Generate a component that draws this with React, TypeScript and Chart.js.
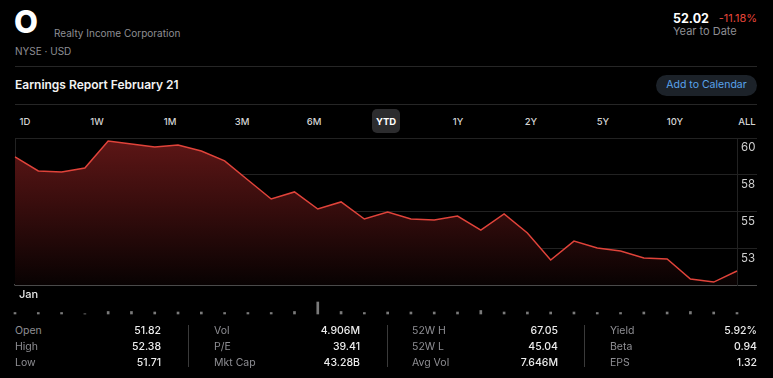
import React, { useEffect, useRef } from "react";
import { Chart, registerables } from "chart.js";
Chart.register(...registerables);

const dates = [
  "Jan 2", "Jan 3", "Jan 4", "Jan 5", "Jan 8", "Jan 9", "Jan 10", "Jan 11", "Jan 12",
  "Jan 16", "Jan 17", "Jan 18", "Jan 19", "Jan 22", "Jan 23", "Jan 24", "Jan 25", "Jan 26",
  "Jan 29", "Jan 30", "Jan 31", "Feb 1", "Feb 2", "Feb 5", "Feb 6", "Feb 7", "Feb 8",
  "Feb 9", "Feb 12", "Feb 13", "Feb 14", "Feb 15",
];
const closes = [
  58.71, 57.76, 57.69, 57.96, 59.8, 59.59, 59.39, 59.52, 59.12, 58.44, 57.14, 55.85,
  56.33, 55.17, 55.65, 54.49, 54.97, 54.49, 54.42, 54.69, 53.74, 54.83, 53.54, 51.7,
  52.99, 52.52, 52.31, 51.84, 51.77, 50.41, 50.2, 50.95,
];
const volumes = [
  3, 3, 3, 0.4, 5, 5, 4, 4, 4, 3, 3, 3, 5, 24, 5, 3, 4, 4, 4, 4, 7, 4, 4, 4, 4, 3, 3,
  4, 4, 5, 4, 3,
];
const yTickValues = [50, 52.5, 55, 57.5, 60];
const yTickLabels = ["", "53", "55", "58", "60"];
const xTickLabel = "Jan";

const ranges = ["1D", "1W", "1M", "3M", "6M", "YTD", "1Y", "2Y", "5Y", "10Y", "ALL"];
const activeRange = "YTD";

const statLabels = [
  ["Open", "High", "Low"],
  ["Vol", "P/E", "Mkt Cap"],
  ["52W H", "52W L", "Avg Vol"],
  ["Yield", "Beta", "EPS"],
];
const statValues = [
  ["51.82", "52.38", "51.71"],
  ["4.906M", "39.41", "43.28B"],
  ["67.05", "45.04", "7.646M"],
  ["5.92%", "0.94", "1.32"],
];

const FONT = "Inter, 'Noto Sans', sans-serif";

function PriceChart() {
  const ref = useRef<HTMLCanvasElement>(null);
  useEffect(() => {
    const chart = new Chart(ref.current!, {
      type: "line",
      data: {
        labels: dates,
        datasets: [
          {
            data: closes,
            borderColor: "#e0433a",
            borderWidth: 1.5,
            pointRadius: 0,
            tension: 0,
            fill: "start",
            backgroundColor: (ctx: any) => {
              const ca = ctx.chart.chartArea;
              if (!ca) return "rgba(90,20,20,0.6)";
              const g = ctx.chart.ctx.createLinearGradient(0, ca.top, 0, ca.bottom);
              g.addColorStop(0, "#5e1616");
              g.addColorStop(0.5, "#340c0c");
              g.addColorStop(1, "#080202");
              return g;
            },
          },
        ],
      },
      options: {
        animation: false,
        responsive: false,
        maintainAspectRatio: false,
        layout: { padding: { left: 15, right: 0, top: 8, bottom: 0 } },
        plugins: { legend: { display: false }, tooltip: { enabled: false } },
        scales: {
          x: {
            type: "category",
            offset: false,
            afterFit: (s: any) => {
              s.height = 17;
            },
            grid: {
              drawTicks: false,
              color: (c: any) => (c.index === 0 ? "#222" : "rgba(0,0,0,0)"),
            },
            border: { display: true, color: "#4a4a4a", width: 1.5 },
            ticks: {
              autoSkip: false,
              maxRotation: 0,
              align: "start",
              labelOffset: 4,
              padding: 3,
              color: "#e8e8e8",
              font: { family: FONT, size: 11, weight: "500" },
              callback: (_v: any, i: number) => (i === 0 ? xTickLabel : ""),
            },
          },
          y: {
            position: "right",
            min: 50,
            max: 60,
            afterBuildTicks: (s: any) => {
              s.ticks = yTickValues.map((v) => ({ value: v }));
            },
            afterFit: (s: any) => {
              s.width = 36;
            },
            grid: {
              drawTicks: true,
              tickLength: 20,
              color: (c: any) => (c.tick && c.tick.value === 50 ? "#4a4a4a" : "#222"),
            },
            border: { display: true, color: "#222" },
            ticks: {
              padding: -16,
              labelOffset: 10,
              color: "#d0d0d0",
              font: { family: FONT, size: 11.5 },
              callback: (_v: any, i: number) => yTickLabels[i],
            },
          },
        },
      },
    });
    return () => chart.destroy();
  }, []);
  return (
    <canvas
      ref={ref}
      width={773}
      height={172}
      style={{ position: "absolute", left: 0, top: 130, width: 773, height: 172 }}
    />
  );
}

function VolumeChart() {
  const ref = useRef<HTMLCanvasElement>(null);
  useEffect(() => {
    const chart = new Chart(ref.current!, {
      type: "bar",
      data: {
        labels: dates,
        datasets: [
          {
            data: volumes,
            backgroundColor: "#7a7a7a",
            barThickness: 2,
            clip: false as any,
          },
        ],
      },
      options: {
        animation: false,
        responsive: false,
        maintainAspectRatio: false,
        layout: { padding: { left: 15, right: 36, top: 0, bottom: 1 } },
        plugins: { legend: { display: false }, tooltip: { enabled: false } },
        scales: {
          x: { display: false, offset: false },
          y: { display: false, min: 0, max: 30 },
        },
      },
    });
    return () => chart.destroy();
  }, []);
  return (
    <canvas
      ref={ref}
      width={773}
      height={16}
      style={{ position: "absolute", left: 0, top: 299, width: 773, height: 16 }}
    />
  );
}

function Txt(props: {
  x: number;
  y: number;
  size: number;
  color: string;
  weight?: number;
  align?: "left" | "right" | "center";
  children: React.ReactNode;
}) {
  const { x, y, size, color, weight = 400, align = "left", children } = props;
  const lh = size * 1.4;
  const style: React.CSSProperties = {
    position: "absolute",
    top: y - lh / 2,
    lineHeight: lh + "px",
    fontSize: size,
    fontWeight: weight,
    color,
    whiteSpace: "nowrap",
    fontFamily: FONT,
  };
  if (align === "left") style.left = x;
  else if (align === "right") style.right = 773 - x;
  else {
    style.left = x - 50;
    style.width = 100;
    style.textAlign = "center";
  }
  return <div style={style}>{children}</div>;
}

export default function App() {
  const tabCenters = [25, 97, 170, 242, 314, 386, 458, 531, 603, 675, 747];
  const colLeft = [15, 214, 412, 610];
  const colRight = [161, 360, 558, 757];
  const rowY = [331, 347, 363];
  const sepX = [188, 387, 584];
  return (
    <div
      style={{
        position: "fixed",
        left: 0,
        top: 0,
        width: 773,
        height: 378,
        background: "#000",
        overflow: "hidden",
        fontFamily: FONT,
      }}
    >
      <Txt x={14} y={22} size={31} color="#fff" weight={800}>
        O
      </Txt>
      <Txt x={54} y={33} size={10} color="#8e8e93">
        Realty Income Corporation
      </Txt>
      <Txt x={15} y={51} size={10} color="#8e8e93">
        NYSE · USD
      </Txt>
      <Txt x={673} y={19} size={12.5} color="#fff" weight={700}>
        52.02
      </Txt>
      <Txt x={757} y={19} size={11} color="#e5453a" align="right">
        -11.18%
      </Txt>
      <Txt x={673} y={32} size={11} color="#8e8e93">
        Year to Date
      </Txt>
      <div style={{ position: "absolute", left: 15, top: 66, width: 742, height: 1, background: "#262626" }} />
      <Txt x={15} y={85} size={12} color="#f2f2f2" weight={600}>
        Earnings Report February 21
      </Txt>
      <div
        style={{
          position: "absolute",
          left: 656,
          top: 75,
          width: 101,
          height: 21,
          borderRadius: 11,
          background: "#1c2229",
        }}
      />
      <Txt x={706.5} y={85.5} size={10.5} color="#5aa3ec" align="center">
        Add to Calendar
      </Txt>
      <div style={{ position: "absolute", left: 15, top: 104, width: 742, height: 1, background: "#262626" }} />
      <div
        style={{
          position: "absolute",
          left: 372,
          top: 109,
          width: 28,
          height: 24,
          borderRadius: 5,
          background: "#2c2c2e",
        }}
      />
      {ranges.map((r, i) => (
        <Txt
          key={r}
          x={tabCenters[i]}
          y={122}
          size={9.5}
          color={r === activeRange ? "#fff" : "#d4d4d4"}
          weight={r === activeRange ? 700 : 500}
          align="center"
        >
          {r}
        </Txt>
      ))}
      <PriceChart />
      <VolumeChart />
      {sepX.map((x) => (
        <div key={x} style={{ position: "absolute", left: x, top: 325, width: 1, height: 42, background: "#3a3a3a" }} />
      ))}
      {statLabels.map((col, ci) =>
        col.map((lab, ri) => (
          <React.Fragment key={lab}>
            <Txt x={colLeft[ci]} y={rowY[ri]} size={10.5} color="#8e8e93">
              {lab}
            </Txt>
            <Txt x={colRight[ci]} y={rowY[ri]} size={10.5} color="#ececec" weight={500} align="right">
              {statValues[ci][ri]}
            </Txt>
          </React.Fragment>
        ))
      )}
    </div>
  );
}
